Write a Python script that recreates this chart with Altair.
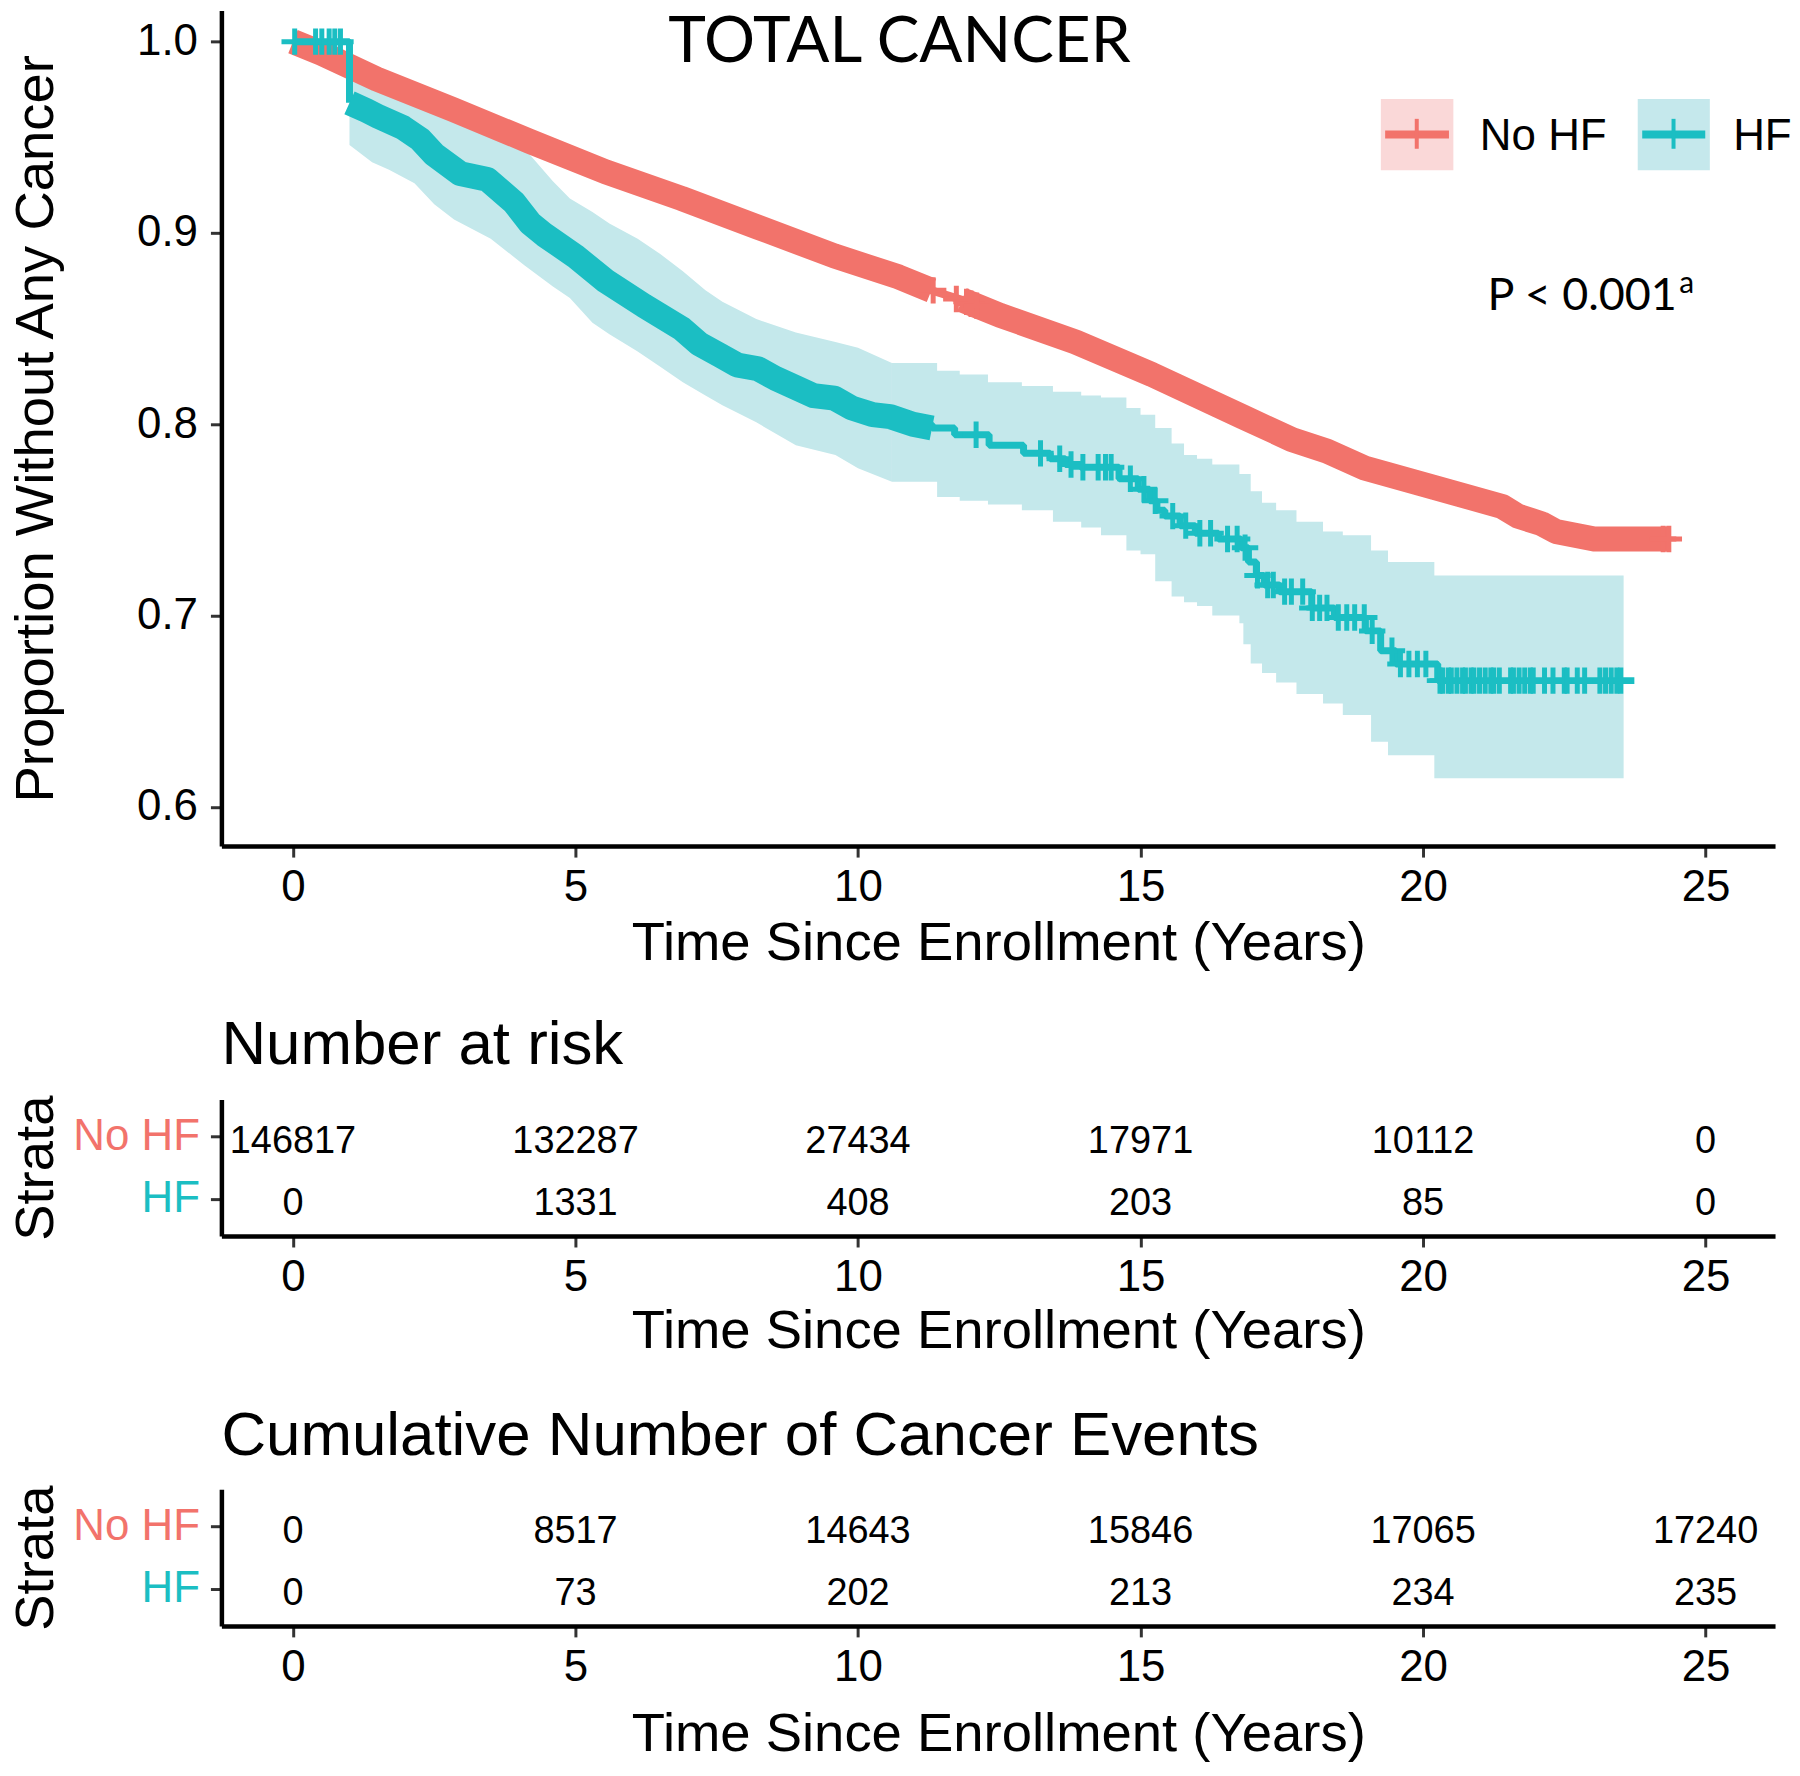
import altair as alt
import pandas as pd

FONT = "Liberation Sans"
TFONT = "Lato"
RED = "#F2736B"
TEAL = "#1BBEC3"
BAND = "#C4E8EB"
PINK = "#FAD8D8"
LBLUE = "#C5E8EC"
PLUS = "M -1 0 L 1 0 M 0 -1 L 0 1"

GROUPS = ["No HF", "HF"]
X_TICKS = [0, 5, 10, 15, 20, 25]
Y_TICKS = [0.6, 0.7, 0.8, 0.9, 1.0]
X_DOMAIN = [-1.267, 26.23]
Y_DOMAIN = [0.5795, 1.0163]

# ---- Kaplan-Meier: No HF ----
nohf_time = [0, 0.5, 1.48, 2.83, 4.18, 5.53, 6.88, 8.23, 9.58, 10.72, 11.3, 11.84, 12.51,
             13.85, 15.2, 16.8, 17.68, 18.3, 18.98, 20.2, 21.4, 21.68, 22.1, 22.35, 23.03, 24.35]
nohf_surv = [1.0, 0.994, 0.9805, 0.9645, 0.948, 0.932, 0.918, 0.903, 0.888, 0.877, 0.870, 0.865, 0.857,
             0.843, 0.826, 0.804, 0.792, 0.786, 0.777, 0.767, 0.757, 0.752, 0.748, 0.744, 0.740, 0.740]
nohf_dense = [(0, 11.3), (11.84, 24.35)]
nohf_cens_time = [11.33, 11.74, 11.92, 12.0, 12.1, 24.25, 24.35]
nohf_cens_surv = [0.870, 0.8655, 0.864, 0.863, 0.862, 0.740, 0.740]

# ---- Kaplan-Meier: HF ----
hf_time = [0, 1.0, 1.3, 1.5, 1.95, 2.25, 2.5, 2.96, 3.44, 3.91, 4.2, 4.45, 4.99, 5.53, 6.21, 6.88,
           7.19, 7.56, 7.86, 8.23, 8.54, 8.91, 9.21, 9.58, 9.89, 10.26, 10.57, 10.97, 11.31, 11.71,
           12.32, 12.93, 13.40, 13.67, 13.94, 14.62, 14.96, 15.16, 15.29, 15.43, 15.70, 15.97, 16.38,
           16.78, 16.91, 17.05, 17.19, 17.46, 18.03, 18.43, 18.98, 19.25, 19.52, 20.26, 23.74]
hf_surv = [1.0, 0.968, 0.964, 0.961, 0.955, 0.949, 0.941, 0.931, 0.928, 0.916, 0.905, 0.899, 0.888,
           0.875, 0.862, 0.850, 0.842, 0.836, 0.831, 0.829, 0.824, 0.819, 0.815, 0.8137, 0.8085, 0.805,
           0.804, 0.800, 0.798, 0.7945, 0.789, 0.7848, 0.782, 0.779, 0.7775, 0.7715, 0.766, 0.760,
           0.755, 0.752, 0.747, 0.743, 0.740, 0.7355, 0.728, 0.721, 0.716, 0.7125, 0.704, 0.699,
           0.692, 0.6816, 0.6747, 0.666, 0.666]
hf_dense = [(1.0, 11.31)]          # heavily censored stretch drawn as a thick band
hf_sparse = [(0, 1.0), (10.97, 23.74)]  # stretches drawn as a plain step line
hf_band_time = [1.0, 1.4, 1.7, 2.15, 2.5, 2.85, 3.5, 4.1, 4.6, 4.9, 5.3, 5.6, 6.1, 6.5, 6.9, 7.3, 7.6,
                8.2, 8.9, 9.6, 10.0, 10.6, 11.4, 11.8, 12.3, 12.9, 13.45, 13.95, 14.3, 14.75, 15.0,
                15.26, 15.55, 15.77, 16.0, 16.27, 16.75, 16.82, 16.95, 17.15, 17.4, 17.76, 18.23,
                18.58, 19.08, 19.38, 20.2, 23.55]
hf_band_lo = [0.946, 0.937, 0.933, 0.926, 0.915, 0.907, 0.897, 0.883, 0.872, 0.866, 0.853, 0.847,
              0.838, 0.830, 0.822, 0.815, 0.810, 0.801, 0.789, 0.784, 0.777, 0.770, 0.762, 0.760,
              0.758, 0.755, 0.749, 0.746, 0.742, 0.734, 0.732, 0.718, 0.710, 0.707, 0.705, 0.700,
              0.696, 0.685, 0.675, 0.670, 0.665, 0.659, 0.654, 0.648, 0.634, 0.627, 0.615, 0.615]
hf_band_hi = [0.985, 0.979, 0.975, 0.970, 0.963, 0.958, 0.951, 0.944, 0.927, 0.918, 0.911, 0.905,
              0.897, 0.889, 0.880, 0.870, 0.864, 0.855, 0.848, 0.843, 0.840, 0.832, 0.828, 0.826,
              0.822, 0.820, 0.817, 0.815, 0.814, 0.8085, 0.805, 0.798, 0.790, 0.784, 0.782, 0.779,
              0.774, 0.774, 0.765, 0.759, 0.755, 0.749, 0.744, 0.742, 0.734, 0.728, 0.721, 0.721]
hf_band_smooth_until = 10.6
hf_cens_time = [0.03, 0.40, 0.51, 0.64, 0.74, 0.84, 12.09, 13.23, 13.57, 13.77, 13.98, 14.25, 14.38,
                14.48, 14.82, 15.06, 15.26, 15.57, 15.8, 16.05, 16.24, 16.54, 16.71, 16.85, 17.07,
                17.25, 17.35, 17.55, 17.67, 17.87, 18.04, 18.17, 18.3, 18.5, 18.65, 18.79, 18.96,
                19.1, 19.45, 19.6, 19.75, 19.9, 20.05, 20.3, 20.35, 20.45, 20.5, 20.6, 20.7, 20.75,
                20.85, 20.9, 21.0, 21.1, 21.2, 21.25, 21.35, 21.55, 21.6, 21.7, 21.8, 21.9, 21.95,
                22.15, 22.3, 22.5, 22.55, 22.73, 22.86, 23.13, 23.23, 23.33, 23.43, 23.5]
hf_cens_surv = [1.0, 1.0, 1.0, 1.0, 1.0, 1.0, 0.7945, 0.7848, 0.782, 0.779, 0.7775, 0.7775, 0.7775,
                0.7775, 0.7715, 0.766, 0.760, 0.752, 0.747, 0.743, 0.743, 0.740, 0.740, 0.7355, 0.721,
                0.716, 0.716, 0.7125, 0.7125, 0.7125, 0.704, 0.704, 0.704, 0.699, 0.699, 0.699, 0.699,
                0.692, 0.6816, 0.6747, 0.6747, 0.6747, 0.6747, 0.666, 0.666, 0.666, 0.666, 0.666,
                0.666, 0.666, 0.666, 0.666, 0.666, 0.666, 0.666, 0.666, 0.666, 0.666, 0.666, 0.666,
                0.666, 0.666, 0.666, 0.666, 0.666, 0.666, 0.666, 0.666, 0.666, 0.666, 0.666, 0.666,
                0.666, 0.666]

# ---- tables ----
table_times = [0, 5, 10, 15, 20, 25]
risk_nohf = [146817, 132287, 27434, 17971, 10112, 0]
risk_hf = [0, 1331, 408, 203, 85, 0]
events_nohf = [0, 8517, 14643, 15846, 17065, 17240]
events_hf = [0, 73, 202, 213, 234, 235]

W = 1558
H_MAIN = 838
H_TAB = 137


def segments(times, survs, ranges):
    parts = []
    for i, (a, b) in enumerate(ranges):
        rows = [(t, s) for t, s in zip(times, survs) if a <= t <= b]
        parts.append(pd.DataFrame({"time": [r[0] for r in rows], "surv": [r[1] for r in rows], "seg": i}))
    return pd.concat(parts, ignore_index=True)


red_df = pd.DataFrame({"time": nohf_time, "surv": nohf_surv})
red_thick = segments(nohf_time, nohf_surv, nohf_dense)
red_cens = pd.DataFrame({"time": nohf_cens_time, "surv": nohf_cens_surv})
teal_thin_df = segments(hf_time, hf_surv, hf_sparse)
teal_thick = segments(hf_time, hf_surv, hf_dense)
teal_cens = pd.DataFrame({"time": hf_cens_time, "surv": hf_cens_surv})
band_df = pd.DataFrame({"time": hf_band_time, "lo": hf_band_lo, "hi": hf_band_hi})
band_early = band_df[band_df.time <= hf_band_smooth_until]
band_late = band_df[band_df.time >= hf_band_smooth_until]

xscale = alt.Scale(domain=X_DOMAIN, nice=False, zero=False)
yscale = alt.Scale(domain=Y_DOMAIN, nice=False, zero=False)
x_axis = alt.Axis(values=X_TICKS, title="Time Since Enrollment (Years)", labelPadding=9,
                  titlePadding=7, labelFlush=False)
y_axis = alt.Axis(values=Y_TICKS, format=".1f", title="Proportion Without Any Cancer",
                  labelPadding=13, titlePadding=73)
X = alt.X("time:Q", scale=xscale, axis=x_axis)


def Y(field):
    return alt.Y(field, scale=yscale, axis=y_axis)


band1 = alt.Chart(band_early).mark_area(interpolate="linear", color=BAND, opacity=1).encode(
    x=X, y=Y("lo:Q"), y2="hi:Q")
band2 = alt.Chart(band_late).mark_area(interpolate="step-after", color=BAND, opacity=1).encode(
    x=X, y=Y("lo:Q"), y2="hi:Q")
red_thin = alt.Chart(red_df).mark_line(color=RED, strokeWidth=8, strokeCap="butt",
                                       strokeJoin="round").encode(x=X, y=Y("surv:Q"))
red_thk = alt.Chart(red_thick).mark_line(color=RED, strokeWidth=25, strokeCap="butt",
                                         strokeJoin="round").encode(x=X, y=Y("surv:Q"), detail="seg:N")
red_pts = alt.Chart(red_cens).mark_point(shape=PLUS, filled=False, size=700, strokeWidth=5,
                                         color=RED, opacity=1).encode(x=X, y=Y("surv:Q"))
teal_thin = alt.Chart(teal_thin_df).mark_line(interpolate="step-after", color=TEAL, strokeWidth=7,
                                              strokeCap="butt", strokeJoin="bevel").encode(
    x=X, y=Y("surv:Q"), detail="seg:N")
teal_thk = alt.Chart(teal_thick).mark_line(color=TEAL, strokeWidth=25, strokeCap="butt",
                                           strokeJoin="round").encode(x=X, y=Y("surv:Q"), detail="seg:N")
teal_pts = alt.Chart(teal_cens).mark_point(shape=PLUS, filled=False, size=700, strokeWidth=5,
                                           color=TEAL, opacity=1).encode(x=X, y=Y("surv:Q"))

one = pd.DataFrame({"k": [0]})
title_txt = alt.Chart(one).mark_text(text="TOTAL CANCER", font=TFONT, fontSize=64, align="center",
                                     baseline="alphabetic", color="black").encode(
    x=alt.value(680), y=alt.value(52))
p_txt = alt.Chart(one).mark_text(text="P < 0.001", font=TFONT, fontSize=45, align="center",
                                 baseline="alphabetic", color="black").encode(
    x=alt.value(1364.6), y=alt.value(300))
p_sup = alt.Chart(one).mark_text(text="a", font=TFONT, fontSize=30, align="left",
                                 baseline="alphabetic", color="black").encode(
    x=alt.value(1462), y=alt.value(283.7))

leg = []
for (x0, x1, lx0, lx1, vx, tx, fill, col, lab) in [
        (1162.7, 1235.4, 1167, 1231, 1198.7, 1262, PINK, RED, "No HF"),
        (1420.3, 1492.6, 1424.8, 1488, 1456.2, 1516, LBLUE, TEAL, "HF")]:
    leg.append(alt.Chart(one).mark_rect(color=fill).encode(
        x=alt.value(x0), x2=alt.value(x1), y=alt.value(88.7), y2=alt.value(160.3)))
    leg.append(alt.Chart(one).mark_rule(color=col, strokeWidth=8).encode(
        x=alt.value(lx0), x2=alt.value(lx1), y=alt.value(124.5)))
    leg.append(alt.Chart(one).mark_rule(color=col, strokeWidth=4).encode(
        x=alt.value(vx), y=alt.value(108.7), y2=alt.value(138.7)))
    leg.append(alt.Chart(one).mark_text(text=lab, font=FONT, fontSize=44, align="left",
                                        baseline="alphabetic", color="black").encode(
        x=alt.value(tx), y=alt.value(140)))

main = alt.layer(band1, band2, red_thin, red_thk, red_pts, teal_thin, teal_thk, teal_pts,
                 title_txt, p_txt, p_sup, *leg).properties(width=W, height=H_MAIN)


def table(nohf_vals, hf_vals, title, x_title_pad, title_offset):
    df = pd.DataFrame({
        "time": table_times + table_times,
        "group": ["No HF"] * len(table_times) + ["HF"] * len(table_times),
        "value": [str(v) for v in nohf_vals] + [str(v) for v in hf_vals],
    })
    return alt.Chart(df).mark_text(font=FONT, fontSize=38, color="black", baseline="middle", dy=5).encode(
        x=alt.X("time:Q", scale=xscale,
                axis=alt.Axis(values=X_TICKS, title="Time Since Enrollment (Years)", labelPadding=9,
                              titlePadding=x_title_pad, labelFlush=False)),
        y=alt.Y("group:N", sort=GROUPS, scale=alt.Scale(type="point", padding=0.6),
                axis=alt.Axis(title="Strata", labelPadding=11, titlePadding=9,
                              labelColor={"expr": "datum.label == 'No HF' ? '%s' : '%s'" % (RED, TEAL)})),
        text="value:N",
    ).properties(width=W, height=H_TAB,
                 title=alt.TitleParams(title, anchor="start", frame="group", fontSize=62, font=FONT,
                                       fontWeight="normal", color="black", offset=title_offset))


risk = table(risk_nohf, risk_hf, "Number at risk", 5, 18)
cum = table(events_nohf, events_hf, "Cumulative Number of Cancer Events", 18, 17)

chart = alt.VConcatChart(vconcat=[main, risk, cum], spacing=254, bounds="flush",
                         padding={"left": 0, "top": 0, "right": 0, "bottom": 0}).configure_view(
    stroke=None).configure_axis(
    domainColor="black", domainWidth=4.5, tickColor="#333333", tickWidth=3, tickSize=11,
    labelFont=FONT, labelFontSize=44, labelColor="black", titleFont=FONT, titleFontSize=54.6,
    titleFontWeight="normal", titleColor="black", grid=False)

chart.save("out.html", embed_options={"renderer": "svg", "actions": False})
